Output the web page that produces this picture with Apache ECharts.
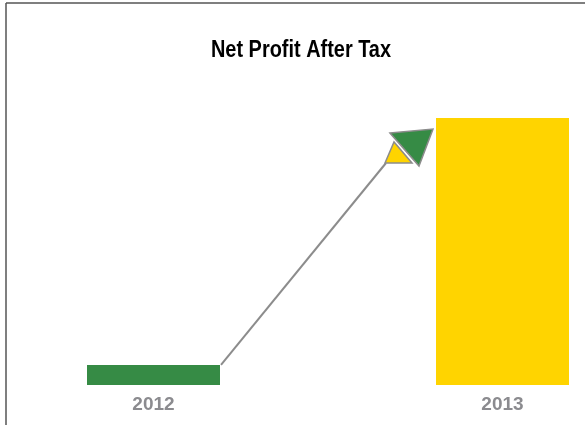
<!DOCTYPE html>
<html>
<head>
<meta charset="utf-8">
<style>
  html, body { margin: 0; padding: 0; background: #fff; }
  #chart { width: 585px; height: 425px; }
</style>
<script src="https://cdn.jsdelivr.net/npm/echarts@6/dist/echarts.min.js"></script>
</head>
<body>
<div id="chart"></div>
<script>
// Net profit after tax by year
const years = ['2012', '2013'];
const profit = [1.5, 20];
const barColors = ['#368B45', '#FFD400'];
const chartTitle = 'Net Profit After Tax';

const GREEN = barColors[0];
const YELLOW = barColors[1];
const BAR_W = 133;

const chart = echarts.init(document.getElementById('chart'));

chart.setOption({
  animation: false,
  backgroundColor: '#ffffff',
  grid: { left: -21, right: -92, top: 118, bottom: 40, outerBoundsMode: 'none' },
  xAxis: {
    type: 'category',
    data: years,
    axisLine: { show: false },
    axisTick: { show: false },
    axisLabel: {
      margin: 10,
      color: '#8B8B8F',
      fontWeight: 'bold',
      fontSize: 19,
      fontFamily: '"Liberation Sans", Arial, sans-serif'
    }
  },
  yAxis: {
    type: 'value',
    min: 0,
    max: 20,
    show: false
  },
  series: [{
    type: 'bar',
    barWidth: BAR_W,
    data: profit.map((v, i) => ({ value: v, itemStyle: { color: barColors[i] } }))
  }]
});

// Growth arrow: from the top-right corner of the first bar towards the second bar
const p0 = chart.convertToPixel({ gridIndex: 0 }, [years[0], profit[0]]);
const p1 = chart.convertToPixel({ gridIndex: 0 }, [years[1], profit[1]]);
const start = [p0[0] + BAR_W / 2 + 1, p0[1]];
const end = [p1[0] - BAR_W / 2 - 50, p1[1] + 45];
const at = (dx, dy) => [end[0] + dx, end[1] + dy];
const edge = { stroke: '#8C8C8C', lineWidth: 1.5 };

chart.setOption({
  graphic: [
    // frame
    { type: 'line', shape: { x1: 6, y1: 3, x2: 585, y2: 3 }, style: { stroke: '#555', lineWidth: 1.5 } },
    { type: 'line', shape: { x1: 6, y1: 3, x2: 6, y2: 425 }, style: { stroke: '#555', lineWidth: 1.5 } },
    // condensed bold title
    {
      type: 'text',
      x: 301,
      y: 50,
      scaleX: 0.83,
      style: {
        text: chartTitle,
        fill: '#000',
        font: 'bold 24px "Liberation Sans", Arial, sans-serif',
        align: 'center',
        verticalAlign: 'middle'
      }
    },
    // shaft
    {
      type: 'line',
      shape: { x1: start[0], y1: start[1], x2: end[0], y2: end[1] },
      style: { stroke: '#8C8C8C', lineWidth: 2 }
    },
    // arrowhead
    {
      type: 'polygon',
      shape: { points: [at(-1, 0), at(8, -21), at(26, 0)] },
      style: Object.assign({ fill: YELLOW }, edge)
    },
    {
      type: 'polygon',
      shape: { points: [at(4, -30), at(47, -34), at(33, 3)] },
      style: Object.assign({ fill: GREEN }, edge)
    }
  ]
});
</script>
</body>
</html>
